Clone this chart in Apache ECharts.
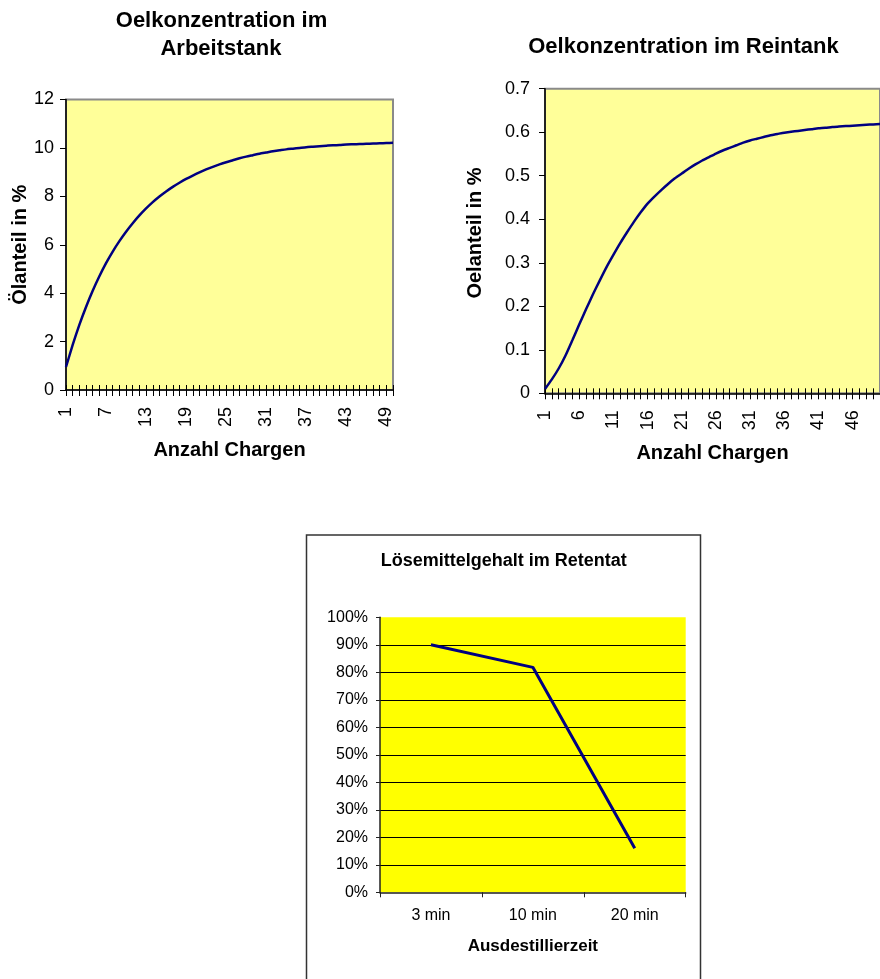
<!DOCTYPE html>
<html>
<head>
<meta charset="utf-8">
<script src="https://cdn.jsdelivr.net/npm/echarts@6/dist/echarts.min.js"></script>
<style>
html,body{margin:0;padding:0;background:#fff;}
#c{width:880px;height:979px;}
</style>
</head>
<body>
<div id="c"></div>
<script>
// ---- data ----
const charges = [1,2,3,4,5,6,7,8,9,10,11,12,13,14,15,16,17,18,19,20,21,22,23,24,25,
  26,27,28,29,30,31,32,33,34,35,36,37,38,39,40,41,42,43,44,45,46,47,48,49,50];
const arbeitstank = [0.95,1.86,2.69,3.43,4.10,4.70,5.24,5.72,6.15,6.54,6.89,7.21,7.50,7.76,7.99,
  8.20,8.39,8.56,8.72,8.86,8.99,9.11,9.22,9.32,9.41,9.49,9.57,9.64,9.70,9.76,9.81,9.86,9.90,9.94,
  9.97,10.00,10.03,10.05,10.07,10.09,10.11,10.12,10.14,10.15,10.16,10.17,10.18,10.19,10.20,10.21];
const reintank = [0.010,0.032,0.057,0.087,0.122,0.158,0.193,0.227,0.259,0.290,0.318,0.345,0.370,
  0.394,0.416,0.436,0.452,0.467,0.481,0.494,0.505,0.516,0.526,0.535,0.543,0.551,0.558,0.564,0.570,
  0.576,0.581,0.585,0.589,0.593,0.596,0.599,0.601,0.603,0.605,0.607,0.609,0.610,0.612,0.613,0.614,
  0.615,0.616,0.617,0.618,0.619];
const zeiten = ['3 min', '10 min', '20 min'];
const loesemittel = [90, 81.8, 16];

const title1 = ['Oelkonzentration im', 'Arbeitstank'];
const title2 = 'Oelkonzentration im Reintank';
const title3 = 'Lösemittelgehalt im Retentat';

// ---- styling ----
const FF = '"Liberation Sans", Arial, Helvetica, sans-serif';
const NAVY = '#000080';

function catAxis(grid, data, interval, labelMargin) {
  return {
    type: 'category', gridIndex: grid, data: data, boundaryGap: false, position: 'bottom',
    axisLine: { show: true, lineStyle: { color: '#000', width: 1.5 } },
    axisTick: { show: true, interval: 0, length: 6, lineStyle: { color: '#000', width: 1 } },
    axisLabel: { interval: interval, rotate: 90, margin: labelMargin, fontFamily: FF, fontSize: 18, color: '#000' },
    name: 'Anzahl Chargen', nameLocation: 'middle', nameGap: 50,
    nameTextStyle: { fontFamily: FF, fontSize: 20, fontWeight: 'bold', color: '#000' },
    splitLine: { show: false }
  };
}
function crossAxis(grid, data) {
  return {
    type: 'category', gridIndex: grid, data: data, boundaryGap: false, position: 'bottom',
    axisLine: { show: false },
    axisTick: { show: true, inside: true, interval: 0, length: 5, lineStyle: { color: '#000', width: 1 } },
    axisLabel: { show: false }, splitLine: { show: false }
  };
}

const chart = echarts.init(document.getElementById('c'), null, { renderer: 'canvas' });
chart.setOption({
  animation: false,
  backgroundColor: '#ffffff',
  graphic: [
    { type: 'text', style: { text: title1[0], x: 221.5, y: 20.5, textAlign: 'center', textVerticalAlign: 'middle', font: 'bold 22px ' + FF, fill: '#000' } },
    { type: 'text', style: { text: title1[1], x: 221, y: 48.5, textAlign: 'center', textVerticalAlign: 'middle', font: 'bold 22px ' + FF, fill: '#000' } },
    { type: 'text', style: { text: title2, x: 683.5, y: 47, textAlign: 'center', textVerticalAlign: 'middle', font: 'bold 22px ' + FF, fill: '#000' } },
    { type: 'rect', shape: { x: 306.5, y: 535, width: 394, height: 460 }, style: { fill: 'none', stroke: '#333', lineWidth: 1.5 }, z: 0 },
    { type: 'text', style: { text: title3, x: 503.8, y: 561, textAlign: 'center', textVerticalAlign: 'middle', font: 'bold 18px ' + FF, fill: '#000' } }
  ],
  grid: [
    { left: 66, top: 99.5, width: 327, height: 290.5, show: true, backgroundColor: '#FFFF99', borderColor: '#8a8a8a', borderWidth: 2 },
    { left: 545, top: 88.7, width: 345, height: 304.6, show: true, backgroundColor: '#FFFF99', borderColor: '#8a8a8a', borderWidth: 2 },
    { left: 380, top: 617.3, width: 305.7, height: 275, show: true, backgroundColor: '#FFFF00', borderWidth: 0 }
  ],
  xAxis: [
    catAxis(0, charges, 5, 17),
    crossAxis(0, charges),
    catAxis(1, charges, 4, 17),
    crossAxis(1, charges),
    {
      type: 'category', gridIndex: 2, data: zeiten, boundaryGap: true, position: 'bottom',
      axisLine: { show: true, lineStyle: { color: '#222', width: 1.5 } },
      axisTick: { show: true, length: 5, lineStyle: { color: '#222', width: 1 } },
      axisLabel: { margin: 15, fontFamily: FF, fontSize: 16, color: '#000' },
      name: 'Ausdestillierzeit', nameLocation: 'middle', nameGap: 46,
      nameTextStyle: { fontFamily: FF, fontSize: 17, fontWeight: 'bold', color: '#000' }
    }
  ],
  yAxis: [
    {
      type: 'value', gridIndex: 0, min: 0, max: 12, interval: 2,
      axisLine: { show: true, lineStyle: { color: '#000', width: 1.5 } },
      axisTick: { show: true, length: 6, lineStyle: { color: '#000', width: 1 } },
      axisLabel: { margin: 12, fontFamily: FF, fontSize: 18, color: '#000' },
      splitLine: { show: false },
      name: 'Ölanteil in %', nameLocation: 'middle', nameGap: 36,
      nameTextStyle: { fontFamily: FF, fontSize: 20, fontWeight: 'bold', color: '#000' }
    },
    {
      type: 'value', gridIndex: 1, min: 0, max: 0.7, interval: 0.1,
      axisLine: { show: true, lineStyle: { color: '#000', width: 1.5 } },
      axisTick: { show: true, length: 6, lineStyle: { color: '#000', width: 1 } },
      axisLabel: { margin: 15, fontFamily: FF, fontSize: 18, color: '#000' },
      splitLine: { show: false },
      name: 'Oelanteil in %', nameLocation: 'middle', nameGap: 60,
      nameTextStyle: { fontFamily: FF, fontSize: 20, fontWeight: 'bold', color: '#000', padding: [0, 0, 0, 16] }
    },
    {
      type: 'value', gridIndex: 2, min: 0, max: 100, interval: 10,
      axisLine: { show: true, lineStyle: { color: '#222', width: 1.5 } },
      axisTick: { show: true, length: 4, lineStyle: { color: '#222', width: 1 } },
      axisLabel: { margin: 12, fontFamily: FF, fontSize: 16, color: '#000', formatter: '{value}%' },
      splitLine: { show: true, showMinLine: false, showMaxLine: false, lineStyle: { color: '#000', width: 1 } }
    }
  ],
  series: [
    { type: 'line', xAxisIndex: 0, yAxisIndex: 0, data: arbeitstank, showSymbol: false, smooth: 0.2,
      lineStyle: { color: NAVY, width: 2.5 }, itemStyle: { color: NAVY } },
    { type: 'line', xAxisIndex: 2, yAxisIndex: 1, data: reintank, showSymbol: false, smooth: 0.2,
      lineStyle: { color: NAVY, width: 2.5 }, itemStyle: { color: NAVY } },
    { type: 'line', xAxisIndex: 4, yAxisIndex: 2, data: loesemittel, showSymbol: false,
      lineStyle: { color: NAVY, width: 3 }, itemStyle: { color: NAVY } }
  ]
});
</script>
</body>
</html>
